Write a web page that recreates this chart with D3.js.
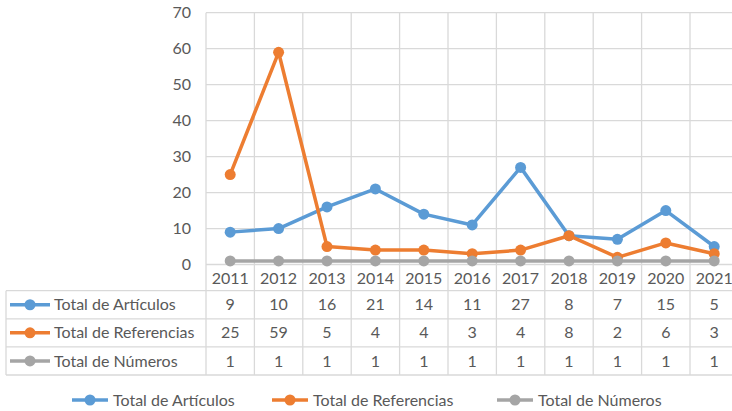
<!DOCTYPE html>
<html>
<head>
<meta charset="utf-8">
<script src="https://cdn.jsdelivr.net/npm/d3@7"></script>
<style>
  html, body { margin: 0; padding: 0; background: #fff; }
  svg { display: block; font-family: Lato, "Open Sans", sans-serif; }
</style>
</head>
<body>
<div id="chart"></div>
<script>
// datos
const years = ["2011", "2012", "2013", "2014", "2015", "2016", "2017", "2018", "2019", "2020", "2021"];
const articulos = [9, 10, 16, 21, 14, 11, 27, 8, 7, 15, 5];
const referencias = [25, 59, 5, 4, 4, 3, 4, 8, 2, 6, 3];
const numeros = [1, 1, 1, 1, 1, 1, 1, 1, 1, 1, 1];
const yTicks = [0, 10, 20, 30, 40, 50, 60, 70];

const series = [
  { name: "Total de Artículos", values: articulos, color: "#5b9bd5" },
  { name: "Total de Referencias", values: referencias, color: "#ed7d31" },
  { name: "Total de Números", values: numeros, color: "#a5a5a5" },
];

const width = 732, height = 411;
const gridColor = "#d9d9d9";
const textColor = "#595959";
const fontSize = 16;

const plotLeft = 206, step = 48.4;
const plotTop = 12.7, plotBottom = 264.5;
const tableLeft = 6;
const rowH = 28.1;
const tableTop = plotBottom + 26.2; // debajo de la fila de años

const x = d3.scaleBand().domain(years).range([plotLeft, plotLeft + step * years.length]).padding(0);
const y = d3.scaleLinear().domain([0, 70]).range([plotBottom, plotTop]);

const svg = d3.select("#chart").append("svg").attr("width", width).attr("height", height);

// Rejilla horizontal
svg.append("g").selectAll("line").data(yTicks).enter().append("line")
  .attr("x1", plotLeft).attr("x2", width)
  .attr("y1", d => y(d)).attr("y2", d => y(d))
  .attr("stroke", gridColor).attr("stroke-width", 1.3);

// Etiquetas del eje Y
svg.append("g").selectAll("text").data(yTicks).enter().append("text")
  .attr("x", 191).attr("y", d => y(d)).attr("dy", "0.35em")
  .attr("text-anchor", "end").attr("fill", textColor).attr("font-size", fontSize)
  .text(d => d);

// Líneas verticales (rejilla + columnas de la tabla)
const tableBottom = tableTop + rowH * series.length;
const bounds = years.map(d => x(d)).concat([x(years[years.length - 1]) + x.bandwidth()]);
svg.append("g").selectAll("line").data(bounds).enter().append("line")
  .attr("x1", d => d).attr("x2", d => d)
  .attr("y1", plotTop).attr("y2", tableBottom)
  .attr("stroke", gridColor).attr("stroke-width", 1.3);

// Líneas horizontales de la tabla
const rowLines = d3.range(series.length + 1).map(i => tableTop + i * rowH);
svg.append("g").selectAll("line").data(rowLines).enter().append("line")
  .attr("x1", tableLeft).attr("x2", width)
  .attr("y1", d => d).attr("y2", d => d)
  .attr("stroke", gridColor).attr("stroke-width", 1.3);
svg.append("line")
  .attr("x1", tableLeft).attr("x2", tableLeft)
  .attr("y1", tableTop).attr("y2", tableBottom)
  .attr("stroke", gridColor).attr("stroke-width", 1.3);

// Años
svg.append("g").selectAll("text").data(years).enter().append("text")
  .attr("x", d => x(d) + x.bandwidth() / 2).attr("y", (plotBottom + tableTop) / 2 + 1).attr("dy", "0.35em")
  .attr("text-anchor", "middle").attr("fill", textColor).attr("font-size", fontSize)
  .text(d => d);

// Series
const line = d3.line().x((d, i) => x(years[i]) + x.bandwidth() / 2).y(d => y(d));
const plot = svg.append("g");
series.forEach(s => {
  plot.append("path").datum(s.values)
    .attr("d", line).attr("fill", "none")
    .attr("stroke", s.color).attr("stroke-width", 3.5).attr("stroke-linejoin", "round");
  plot.selectAll(null).data(s.values).enter().append("circle")
    .attr("cx", (d, i) => x(years[i]) + x.bandwidth() / 2).attr("cy", d => y(d))
    .attr("r", 5.5).attr("fill", s.color);
});

// Filas de la tabla
series.forEach((s, r) => {
  const cy = tableTop + r * rowH + rowH / 2;
  const g = svg.append("g");
  g.append("line").attr("x1", 10).attr("x2", 50).attr("y1", cy).attr("y2", cy)
    .attr("stroke", s.color).attr("stroke-width", 3.5);
  g.append("circle").attr("cx", 30).attr("cy", cy).attr("r", 5.5).attr("fill", s.color);
  g.append("text").attr("x", 54).attr("y", cy).attr("dy", "0.35em")
    .attr("fill", textColor).attr("font-size", fontSize).text(s.name);
  g.selectAll(null).data(s.values).enter().append("text")
    .attr("x", (d, i) => x(years[i]) + x.bandwidth() / 2).attr("y", cy).attr("dy", "0.35em")
    .attr("text-anchor", "middle").attr("fill", textColor).attr("font-size", fontSize)
    .text(d => d);
});

// Leyenda
const legendX = [72, 272, 497];
const legendY = 400;
series.forEach((s, i) => {
  const g = svg.append("g").attr("transform", `translate(${legendX[i]},${legendY})`);
  g.append("line").attr("x1", 0).attr("x2", 36).attr("stroke", s.color).attr("stroke-width", 3.5);
  g.append("circle").attr("cx", 18).attr("r", 5.5).attr("fill", s.color);
  g.append("text").attr("x", 41).attr("dy", "0.35em")
    .attr("fill", textColor).attr("font-size", fontSize).text(s.name);
});
</script>
</body>
</html>
